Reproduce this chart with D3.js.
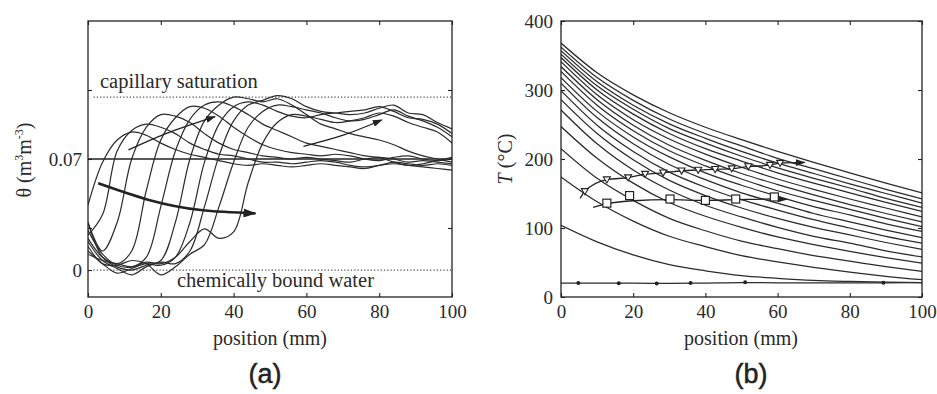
<!DOCTYPE html>
<html>
<head>
<meta charset="utf-8">
<script src="https://cdn.jsdelivr.net/npm/d3@7"></script>
<style>
  body { margin: 0; background: #fff; }
  #fig text { font-family: "Liberation Serif", "DejaVu Serif", "Noto Serif", serif; }
  #fig text.panel { font-family: "Liberation Sans", "DejaVu Sans", Arial, sans-serif; }
</style>
</head>
<body>
<svg id="fig" width="937" height="394"></svg>
<script>
// ---------- (a) moisture content profiles ----------
const positionA = [0,4,8,12,16,20,24,28,32,36,40,44,48,52,56,60,64,68,72,76,80,84,88,92,96,100];
const profile1  = [0.041,0.068,0.082,0.087,0.085,0.080,0.076,0.073,0.071,0.069,0.067,0.066,0.067,0.066,0.065,0.066,0.067,0.066,0.065,0.064,0.066,0.067,0.066,0.065,0.064,0.063];
const profile2  = [0.022,0.035,0.075,0.088,0.092,0.090,0.086,0.080,0.076,0.073,0.072,0.070,0.068,0.068,0.067,0.068,0.069,0.068,0.066,0.065,0.066,0.068,0.067,0.066,0.067,0.066];
const profile3  = [0.030,0.012,0.030,0.070,0.090,0.098,0.097,0.093,0.086,0.080,0.076,0.074,0.072,0.071,0.070,0.071,0.070,0.069,0.068,0.070,0.071,0.070,0.068,0.069,0.068,0.067];
const profile4  = [0.020,0.008,0.004,0.012,0.050,0.082,0.096,0.103,0.102,0.097,0.090,0.084,0.079,0.076,0.074,0.073,0.072,0.073,0.072,0.070,0.069,0.071,0.072,0.070,0.069,0.070];
const profile5  = [0.025,0.010,0.003,0.002,0.008,0.040,0.075,0.095,0.104,0.106,0.103,0.098,0.092,0.088,0.084,0.080,0.078,0.076,0.074,0.072,0.071,0.068,0.066,0.067,0.069,0.071];
const profile6  = [0.030,0.008,0.002,0.000,0.003,0.006,0.030,0.070,0.094,0.104,0.109,0.108,0.106,0.108,0.104,0.098,0.092,0.089,0.086,0.084,0.082,0.079,0.075,0.072,0.070,0.068];
const profile7  = [0.012,0.004,-0.002,0.001,0.004,0.003,0.008,0.030,0.068,0.092,0.103,0.106,0.104,0.100,0.097,0.096,0.098,0.099,0.100,0.101,0.103,0.100,0.096,0.095,0.092,0.086];
const profile8  = [0.018,0.006,0.001,-0.003,0.002,0.005,0.004,0.012,0.040,0.072,0.094,0.104,0.107,0.110,0.108,0.103,0.100,0.099,0.098,0.099,0.102,0.104,0.099,0.098,0.093,0.089];
const profile9  = [0.015,0.004,0.003,0.006,0.004,-0.003,0.002,0.010,0.016,0.040,0.068,0.090,0.100,0.104,0.103,0.101,0.099,0.096,0.094,0.095,0.098,0.101,0.097,0.094,0.090,0.084];
const profile10 = [0.010,0.006,0.004,0.002,0.005,0.004,0.008,0.018,0.026,0.020,0.024,0.055,0.080,0.093,0.098,0.097,0.095,0.093,0.094,0.096,0.099,0.097,0.093,0.090,0.087,0.080];
const moistureProfiles = [profile1,profile2,profile3,profile4,profile5,profile6,profile7,profile8,profile9,profile10];

const initialMoisture = 0.07;
const capillarySaturation = 0.109;
const boundWater = 0;
const thetaDomain = [-0.017, 0.157];
const thetaLabelled = [0, 0.07];
const thetaLabels = ["0", "0.07"];
const thetaMinor = [0.0265, 0.1135];

// trend arrows in (a): [position, theta]
const arrowDrying   = [[2.8,0.0547],[17,0.044],[31,0.0378],[46,0.0357]];
const arrowPeak     = [[11.1,0.0757],[21.6,0.0862],[34.9,0.0967]];
const arrowPlateau  = [[59.2,0.078],[70.1,0.085],[80.7,0.0946]];

// ---------- (b) temperature profiles ----------
const positionB = [0,10,20,30,40,50,60,70,80,90,100];
const temp1  = [368,325,293,267,246,228,211,195,180,165,151];
const temp2  = [362,318,285,258,237,219,201,186,171,156,142];
const temp3  = [357,312,278,251,230,211,194,179,164,150,136];
const temp4  = [352,306,272,244,223,204,187,172,158,143,130];
const temp5  = [347,300,265,237,215,197,180,165,151,137,124];
const temp6  = [341,293,257,229,207,188,171,156,142,129,116];
const temp7  = [334,286,249,220,198,179,163,148,134,121,109];
const temp8  = [327,278,241,212,190,171,154,140,127,114,102];
const temp9  = [318,269,232,203,180,162,146,131,119,106,95];
const temp10 = [310,260,222,192,170,151,136,121,109,97,86];
const temp11 = [299,249,211,181,159,141,126,112,100,88,78];
const temp12 = [286,237,199,169,147,129,114,101,90,79,69];
const temp13 = [271,222,184,155,133,116,101,88,78,67,58];
const temp14 = [247,201,165,137,117,101,87,76,66,57,49];
const temp15 = [215,172,140,114,96,81,70,60,52,44,37];
const temp16 = [174,138,110,88,73,60,51,43,36,30,25];
const temp17 = [104,80,61,47,38,31,27,24,22.5,21.5,21];
const temperatureProfiles = [temp1,temp2,temp3,temp4,temp5,temp6,temp7,temp8,temp9,temp10,temp11,temp12,temp13,temp14,temp15,temp16,temp17];

const initialTemp = [20,20,20,19.8,20.2,20.8,20.6,20.4,20.3,20.5,21];
const initialDotsX = [4.8,16,26.5,35.9,51,89.3];
const initialDotsT = [20.3,20,19.5,20.3,21.5,20.5];

const triangleX = [6.6,12.7,18.6,23.3,28.3,33.4,38,42.7,47.3,51.9,57.9,60.7];
const triangleT = [153,170,173,178,180,183,184,185,186,189,191,194];
const triangleTrend = [[5.3,143],[6.6,153],[12.7,170],[18.6,173],[23.3,178],[28.3,180],[33.4,183],[38,184],[42.7,185],[47.3,186],[51.9,189],[57.9,191],[60.7,194],[67.5,195]];

const squareX = [12.7,19,30.2,40,48.4,59.1];
const squareT = [136,147,142,140,142,145];
const squareTrend = [[8.9,130],[12.7,135],[20,139.5],[30,141],[40,140],[48.4,141],[59,142],[62.5,141.5]];

const positionTicks = [0,20,40,60,80,100];
const tempTicks = [0,100,200,300,400];

// ---------- drawing ----------
const ink = "#222";
const svg = d3.select("#fig");
svg.append("rect").attr("width",937).attr("height",394).attr("fill","#fff");

const defs = svg.append("defs");
function arrowHead(id, len, wid) {
  defs.append("marker").attr("id", id)
    .attr("viewBox", `0 0 ${len} ${wid}`)
    .attr("refX", len - 1).attr("refY", wid / 2)
    .attr("markerWidth", len).attr("markerHeight", wid)
    .attr("markerUnits", "userSpaceOnUse").attr("orient", "auto")
    .append("path").attr("d", `M0,0L${len},${wid/2}L0,${wid}Z`).attr("fill", ink);
}
arrowHead("headBig", 13, 9);
arrowHead("headSmall", 10, 7);

function styleAxis(g) {
  g.select(".domain").remove();
  g.attr("font-family", null).attr("font-size", null);
  g.selectAll("line").attr("stroke", ink).attr("stroke-width", 1.1);
  g.selectAll("text").style("font-size", "19px").attr("fill", "#2a2a2a");
}

function frame(g, x, y) {
  g.append("rect")
    .attr("x", x.range()[0]).attr("y", y.range()[1])
    .attr("width", x.range()[1] - x.range()[0])
    .attr("height", y.range()[0] - y.range()[1])
    .attr("fill", "none").attr("stroke", ink).attr("stroke-width", 1.3);
}

function clipFor(id, x, y) {
  defs.append("clipPath").attr("id", id).append("rect")
    .attr("x", x.range()[0]).attr("y", y.range()[1])
    .attr("width", x.range()[1] - x.range()[0])
    .attr("height", y.range()[0] - y.range()[1]);
}

function label(g, x, y, size, txt) {
  return g.append("text").attr("x", x).attr("y", y)
    .style("font-size", size + "px").attr("fill", "#2a2a2a").text(txt);
}

// ----- panel (a) -----
const xA = d3.scaleLinear([0,100],[88,452]);
const yA = d3.scaleLinear(thetaDomain,[297,21]);
const gA = svg.append("g");
clipFor("clipA", xA, yA);
const plotA = gA.append("g").attr("clip-path","url(#clipA)");

// reference levels
plotA.append("line")
  .attr("x1", xA(0)).attr("x2", xA(100))
  .attr("y1", yA(initialMoisture)).attr("y2", yA(initialMoisture))
  .attr("stroke", ink).attr("stroke-width", 1.6);
[capillarySaturation, boundWater].forEach(v => {
  plotA.append("line")
    .attr("x1", xA(1.5)).attr("x2", xA(100))
    .attr("y1", yA(v)).attr("y2", yA(v))
    .attr("stroke", "#555").attr("stroke-width", 1.2)
    .attr("stroke-dasharray", "1.3,2");
});

const lineA = d3.line()
  .x((d,i) => xA(positionA[i]))
  .y(d => yA(d))
  .curve(d3.curveCatmullRom.alpha(0.5));
plotA.selectAll("path.profile").data(moistureProfiles).join("path")
  .attr("class","profile")
  .attr("d", lineA)
  .attr("fill","none").attr("stroke","#2b2b2b").attr("stroke-width",1.2);

const arrowLineA = d3.line().x(d => xA(d[0])).y(d => yA(d[1])).curve(d3.curveNatural);
gA.append("path").attr("d", arrowLineA(arrowDrying))
  .attr("fill","none").attr("stroke",ink).attr("stroke-width",2.6)
  .attr("marker-end","url(#headBig)");
[arrowPeak, arrowPlateau].forEach(a => {
  gA.append("path").attr("d", arrowLineA(a))
    .attr("fill","none").attr("stroke",ink).attr("stroke-width",1.3)
    .attr("marker-end","url(#headSmall)");
});

frame(gA, xA, yA);

gA.append("g").attr("transform","translate(0,297)")
  .call(d3.axisBottom(xA).tickValues(positionTicks).tickSizeInner(-4).tickSizeOuter(0).tickPadding(8))
  .call(styleAxis);
gA.append("g").attr("transform","translate(0,21)")
  .call(d3.axisTop(xA).tickValues(positionTicks).tickSizeInner(-4).tickSizeOuter(0).tickFormat(""))
  .call(styleAxis);
gA.append("g").attr("transform","translate(88,0)")
  .call(d3.axisLeft(yA).tickValues(thetaLabelled).tickFormat((d,i) => thetaLabels[i]).tickSizeInner(-4).tickSizeOuter(0).tickPadding(6))
  .call(styleAxis);
gA.append("g").attr("transform","translate(88,0)")
  .call(d3.axisLeft(yA).tickValues(thetaMinor).tickSizeInner(-4).tickSizeOuter(0).tickFormat(""))
  .call(styleAxis);
gA.append("g").attr("transform","translate(452,0)")
  .call(d3.axisRight(yA).tickValues(thetaMinor.concat([initialMoisture])).tickSizeInner(-4).tickSizeOuter(0).tickFormat(""))
  .call(styleAxis);

label(gA, 100, 88, 20.5, "capillary saturation");
label(gA, 177, 287, 20.5, "chemically bound water");

const yTitleA = gA.append("text")
  .attr("transform","translate(31,160) rotate(-90)")
  .attr("text-anchor","middle")
  .style("font-size","20px").attr("fill","#2a2a2a");
yTitleA.append("tspan").text("θ (m");
yTitleA.append("tspan").style("font-size","12px").attr("dy",-8).text("3");
yTitleA.append("tspan").attr("dy",8).text("m");
yTitleA.append("tspan").style("font-size","12px").attr("dy",-8).text("-3");
yTitleA.append("tspan").attr("dy",8).text(")");

label(gA, 270, 345, 20, "position (mm)").attr("text-anchor","middle");
gA.append("text").attr("class","panel").attr("x",265).attr("y",383).attr("text-anchor","middle")
  .style("font-size","27px")
  .attr("fill",ink).attr("stroke",ink).attr("stroke-width",0.5)
  .text("(a)");

// ----- panel (b) -----
const xB = d3.scaleLinear([0,100],[561,922]);
const yB = d3.scaleLinear([0,400],[297,21]);
const gB = svg.append("g");
clipFor("clipB", xB, yB);
const plotB = gB.append("g").attr("clip-path","url(#clipB)");

const lineB = d3.line()
  .x((d,i) => xB(positionB[i]))
  .y(d => yB(d))
  .curve(d3.curveMonotoneX);
plotB.selectAll("path.temp").data(temperatureProfiles.concat([initialTemp])).join("path")
  .attr("class","temp")
  .attr("d", lineB)
  .attr("fill","none").attr("stroke","#2b2b2b").attr("stroke-width",1.25);

plotB.selectAll("circle.dot").data(initialDotsX).join("circle")
  .attr("class","dot")
  .attr("cx", d => xB(d)).attr("cy", (d,i) => yB(initialDotsT[i]))
  .attr("r", 2).attr("fill", ink);

const trendB = d3.line().x(d => xB(d[0])).y(d => yB(d[1])).curve(d3.curveMonotoneX);
gB.append("path").attr("d", trendB(triangleTrend))
  .attr("fill","none").attr("stroke",ink).attr("stroke-width",1.3)
  .attr("marker-end","url(#headSmall)");
gB.append("path").attr("d", trendB(squareTrend))
  .attr("fill","none").attr("stroke",ink).attr("stroke-width",1.3)
  .attr("marker-end","url(#headSmall)");

gB.selectAll("path.tri").data(triangleX).join("path")
  .attr("class","tri")
  .attr("transform",(d,i) => `translate(${xB(d)},${yB(triangleT[i])})`)
  .attr("d","M-3.5,-2.8L3.5,-2.8L0,3.3Z")
  .attr("fill","#fff").attr("stroke",ink).attr("stroke-width",1.1);

gB.selectAll("rect.sq").data(squareX).join("rect")
  .attr("class","sq")
  .attr("x", d => xB(d) - 4).attr("y", (d,i) => yB(squareT[i]) - 4)
  .attr("width", 8).attr("height", 8)
  .attr("fill","#fff").attr("stroke",ink).attr("stroke-width",1.2);

frame(gB, xB, yB);

gB.append("g").attr("transform","translate(0,297)")
  .call(d3.axisBottom(xB).tickValues(positionTicks).tickSizeInner(-4).tickSizeOuter(0).tickPadding(8))
  .call(styleAxis);
gB.append("g").attr("transform","translate(0,21)")
  .call(d3.axisTop(xB).tickValues(positionTicks).tickSizeInner(-4).tickSizeOuter(0).tickFormat(""))
  .call(styleAxis);
gB.append("g").attr("transform","translate(561,0)")
  .call(d3.axisLeft(yB).tickValues(tempTicks).tickSizeInner(-4).tickSizeOuter(0).tickPadding(8))
  .call(styleAxis);
gB.append("g").attr("transform","translate(922,0)")
  .call(d3.axisRight(yB).tickValues(tempTicks).tickSizeInner(-4).tickSizeOuter(0).tickFormat(""))
  .call(styleAxis);

const yTitleB = gB.append("text")
  .attr("transform","translate(512,159) rotate(-90)")
  .attr("text-anchor","middle")
  .style("font-size","20px").attr("fill","#2a2a2a");
yTitleB.append("tspan").style("font-style","italic").text("T");
yTitleB.append("tspan").text(" (°C)");

label(gB, 741, 345, 20, "position (mm)").attr("text-anchor","middle");
gB.append("text").attr("class","panel").attr("x",751).attr("y",383).attr("text-anchor","middle")
  .style("font-size","27px")
  .attr("fill",ink).attr("stroke",ink).attr("stroke-width",0.5)
  .text("(b)");
</script>
</body>
</html>
